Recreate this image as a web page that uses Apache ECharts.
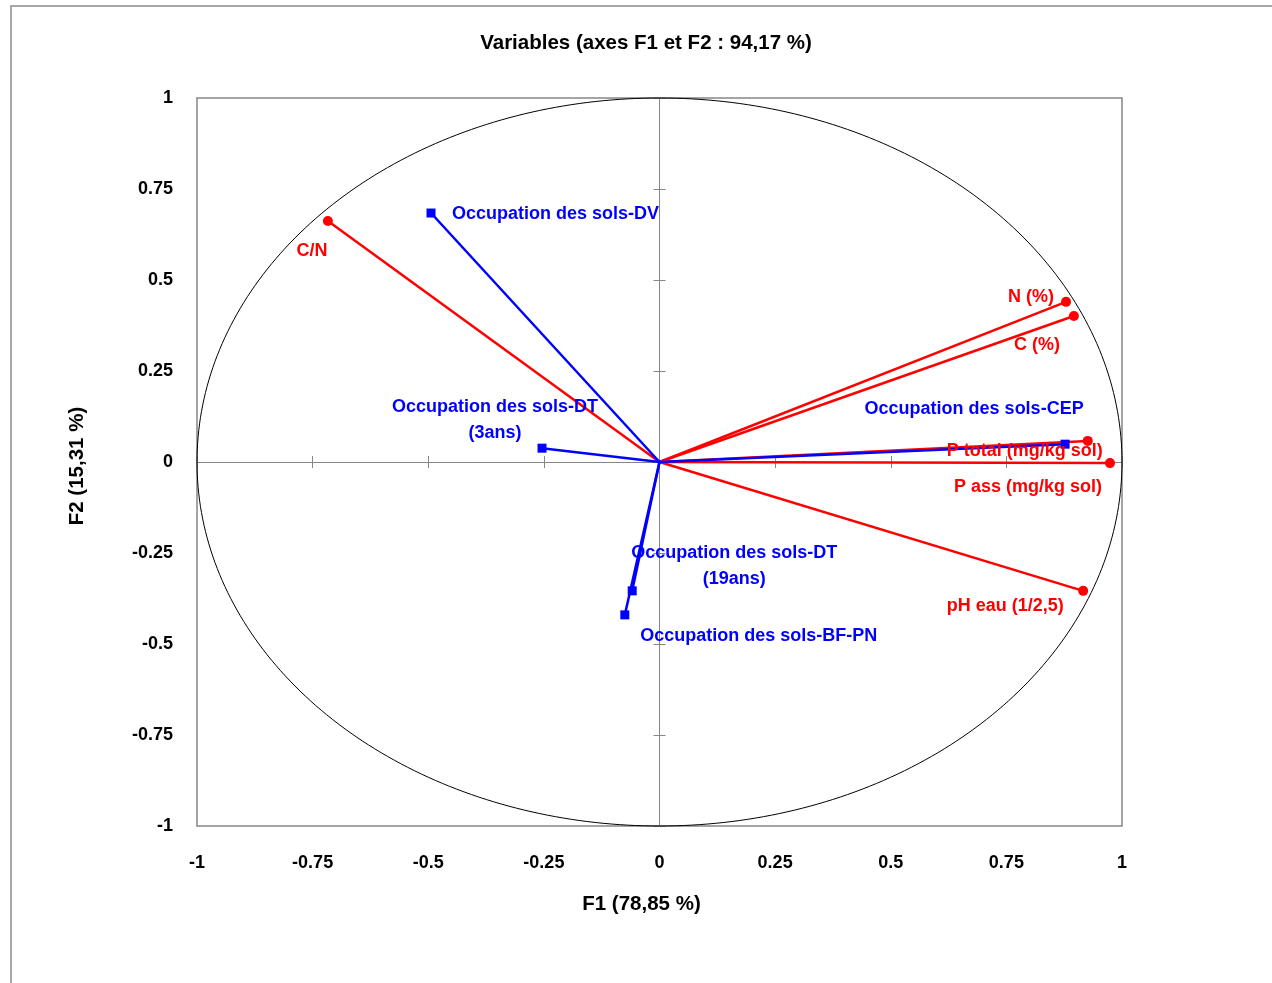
<!DOCTYPE html>
<html><head><meta charset="utf-8">
<script src="https://cdn.jsdelivr.net/npm/echarts@6/dist/echarts.min.js"></script>
<style>
html,body{margin:0;padding:0;background:#fff;}
#frame{position:absolute;left:10px;top:5px;width:1262px;height:978px;border-left:2px solid #a6a6a6;border-top:2px solid #a6a6a6;box-sizing:border-box;}
#c{position:absolute;left:0;top:0;width:1272px;height:983px;}
</style></head>
<body>
<div id="frame"></div>
<div id="c"></div>
<script>
const title = 'Variables (axes F1 et F2 : 94,17 %)';
const xName = 'F1 (78,85 %)';
const yName = 'F2 (15,31 %)';
const tickValues = [-1, -0.75, -0.5, -0.25, 0, 0.25, 0.5, 0.75, 1];

const redNames = ['C/N', 'N (%)', 'C (%)', 'P total (mg/kg sol)', 'P ass (mg/kg sol)', 'pH eau (1/2,5)'];
const redF1 = [-0.717, 0.879, 0.896, 0.926, 0.974, 0.916];
const redF2 = [0.662, 0.440, 0.401, 0.058, -0.003, -0.354];

const blueNames = ['Occupation des sols-DV', 'Occupation des sols-DT\n(3ans)', 'Occupation des sols-CEP', 'Occupation des sols-DT\n(19ans)', 'Occupation des sols-BF-PN'];
const blueF1 = [-0.494, -0.254, 0.877, -0.059, -0.075];
const blueF2 = [0.684, 0.038, 0.049, -0.354, -0.420];

// label placement (pixels, relative to marker centre); align says which label edge sits at the offset
const redPlace = [
  { offset: [-16, 30], align: 'center' },
  { offset: [-12, -5], align: 'right' },
  { offset: [-37, 29], align: 'center' },
  { offset: [-63, 10], align: 'center' },
  { offset: [-82, 24], align: 'center' },
  { offset: [-78, 15], align: 'center' }
];
const bluePlace = [
  { offset: [21, 1], align: 'left' },
  { offset: [-47, -28], align: 'center' },
  { offset: [-91, -35], align: 'center' },
  { offset: [102, -25], align: 'center' },
  { offset: [134, 21], align: 'center' }
];

const RED = '#ff0000', BLUE = '#0000ff', GRAYAX = '#868686';
const FONT = 'Liberation Sans';

const redData = redNames.map((n, i) => [redF1[i], redF2[i], n]);
const blueData = blueNames.map((n, i) => [blueF1[i], blueF2[i], n]);

function vectorSeries(data, color) {
  return {
    type: 'custom', xAxisIndex: 0, yAxisIndex: 0, z: 3,
    data: data,
    renderItem: function (params, api) {
      const p0 = api.coord([0, 0]);
      const p1 = api.coord([api.value(0), api.value(1)]);
      return { type: 'line', shape: { x1: p0[0], y1: p0[1], x2: p1[0], y2: p1[1] },
        style: { stroke: color, lineWidth: 2.5 } };
    },
    silent: true
  };
}
function markerSeries(data, color, symbol, place) {
  return {
    type: 'scatter', xAxisIndex: 0, yAxisIndex: 0, z: 4,
    symbol: symbol, symbolSize: symbol === 'rect' ? 9 : 10,
    itemStyle: { color: color, opacity: 1 },
    data: data.map((d, i) => ({
      value: d,
      label: { show: true, formatter: d[2], position: 'inside', offset: place[i].offset,
        color: color, fontFamily: FONT, fontWeight: 'bold', fontSize: 18, align: place[i].align,
        verticalAlign: 'middle', lineHeight: 26 }
    })),
    silent: true
  };
}

const circleSeries = {
  type: 'custom', xAxisIndex: 0, yAxisIndex: 0, z: 2, silent: true,
  data: [[0, 0]],
  renderItem: function (params, api) {
    const pts = [];
    for (let k = 0; k <= 360; k++) {
      const a = k * Math.PI / 180;
      pts.push(api.coord([Math.cos(a), Math.sin(a)]));
    }
    return { type: 'polyline', shape: { points: pts }, style: { stroke: '#000', lineWidth: 1, fill: null } };
  }
};

const baseAxis = {
  type: 'value', min: -1, max: 1, interval: 0.25, splitLine: { show: false }
};
const labelStyle = { color: '#000', fontFamily: FONT, fontWeight: 'bold', fontSize: 18,
  formatter: v => (tickValues.indexOf(v) >= 0 ? String(v) : '') };

const option = {
  backgroundColor: 'transparent',
  animation: false,
  title: { text: title, left: 641, top: 28, textAlign: 'center',
    textStyle: { fontFamily: FONT, fontWeight: 'bold', fontSize: 20.5, color: '#000' } },
  grid: { left: 197, right: 150, top: 98, bottom: 157, show: true, borderColor: GRAYAX, borderWidth: 1.5, containLabel: false },
  xAxis: [
    Object.assign({}, baseAxis, { position: 'bottom', axisLine: { show: false, onZero: false }, axisTick: { show: false },
      axisLabel: Object.assign({ margin: 28 }, labelStyle),
      name: xName, nameLocation: 'middle', nameGap: 68,
      nameTextStyle: { fontFamily: FONT, fontWeight: 'bold', fontSize: 20.5, color: '#000', padding: [0, 36, 0, 0] } }),
    Object.assign({}, baseAxis, { axisLine: { show: true, onZero: true, onZeroAxisIndex: 0, lineStyle: { color: GRAYAX, width: 1 } },
      axisTick: { show: true, inside: true, length: 6, lineStyle: { color: GRAYAX } }, axisLabel: { show: false } }),
    Object.assign({}, baseAxis, { axisLine: { show: false, onZero: true, onZeroAxisIndex: 0 },
      axisTick: { show: true, inside: false, length: 6, lineStyle: { color: GRAYAX } }, axisLabel: { show: false } })
  ],
  yAxis: [
    Object.assign({}, baseAxis, { position: 'left', axisLine: { show: false, onZero: false }, axisTick: { show: false },
      axisLabel: Object.assign({ margin: 24 }, labelStyle),
      name: yName, nameLocation: 'middle', nameGap: 109, nameRotate: 90,
      nameTextStyle: { fontFamily: FONT, fontWeight: 'bold', fontSize: 20.5, color: '#000', padding: [0, 8, 0, 0] } }),
    Object.assign({}, baseAxis, { axisLine: { show: true, onZero: true, onZeroAxisIndex: 0, lineStyle: { color: GRAYAX, width: 1 } },
      axisTick: { show: true, inside: true, length: 6, lineStyle: { color: GRAYAX } }, axisLabel: { show: false } }),
    Object.assign({}, baseAxis, { axisLine: { show: false, onZero: true, onZeroAxisIndex: 0 },
      axisTick: { show: true, inside: false, length: 6, lineStyle: { color: GRAYAX } }, axisLabel: { show: false } })
  ],
  series: [
    circleSeries,
    vectorSeries(redData, RED),
    vectorSeries(blueData, BLUE),
    markerSeries(redData, RED, 'circle', redPlace),
    markerSeries(blueData, BLUE, 'rect', bluePlace)
  ]
};

const chart = echarts.init(document.getElementById('c'), null, { renderer: 'canvas' });
chart.setOption(option);
</script>
</body></html>
